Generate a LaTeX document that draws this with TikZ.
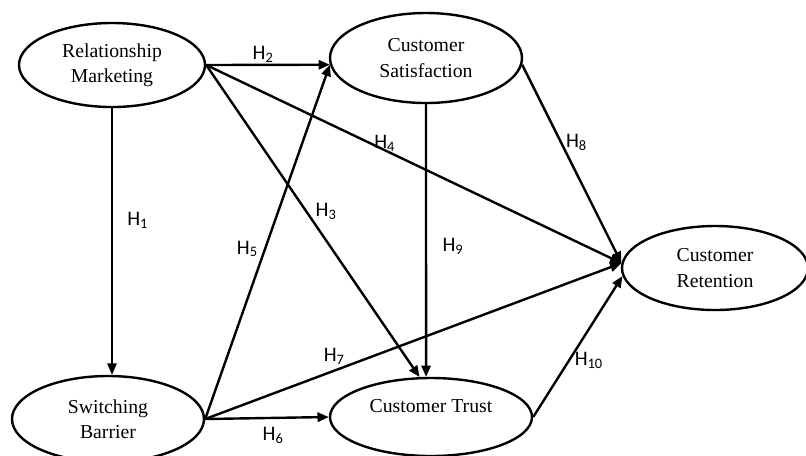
\documentclass[tikz,border=0pt]{standalone}
\usepackage{fontspec}
\setmainfont{Liberation Serif}
\newfontfamily\hypfont{Carlito}
\usetikzlibrary{arrows.meta, shapes.geometric, positioning}

\begin{document}
\begin{tikzpicture}[x=0.75pt, y=-0.75pt, -{Triangle[length=8.5pt, width=7pt]}, line width=1.8pt,
	construct/.style={ellipse, draw, inner sep=0pt, align=center, font=\fontsize{14.8}{19}\selectfont},
	hyp/.style={font=\hypfont\fontsize{15.5}{17}\selectfont, inner sep=2pt}]

\useasboundingbox (0,0) rectangle (806,455);

\node[construct, minimum width=139.5pt, minimum height=63pt]	(rm) at (112,65)	{Relationship\\Marketing};
\node[construct, minimum width=144pt, minimum height=67.5pt]	(cs) at (426,58)	{Customer\\Satisfaction};
\node[construct, minimum width=139.5pt, minimum height=63pt]	(cr) at (715,268)	{Customer\\Retention};
\node[construct, minimum width=144pt, minimum height=64.5pt]	(sb) at (108,419)	{Switching\\Barrier};
\node[construct, minimum width=151.5pt, minimum height=58.5pt, text depth=16.5pt]	(ct) at (431,417)	{Customer Trust};

\path	(rm.south)	edge[line width=1pt]	node[pos=0.42, right=9pt, hyp]	{H\textsubscript{1}}	(rm.south |- sb.north);
\path	(rm.east)	edge	node[pos=0.46, above=-1pt, hyp]	{H\textsubscript{2}}	(cs.184);
\path	(rm.east)	edge	node[pos=0.47, right=4pt, hyp]	{H\textsubscript{3}}	(ct.106);
\path	(rm.east)	edge	node[pos=0.43, anchor=base, yshift=1.5pt, hyp]	{H\textsubscript{4}}	(cr.177);
\path	(sb.east)	edge	node[pos=0.48, left=2.5pt, hyp]	{H\textsubscript{5}}	(cs.184);
\path	(sb.east)	edge	node[pos=0.55, below=4pt, hyp]	{H\textsubscript{6}}	(ct.west);
\path	(sb.east)	edge	node[pos=0.31, above=2pt, hyp]	{H\textsubscript{7}}	(cr.177);
\path	(cs.356)	edge	node[pos=0.39, right=1pt, hyp]	{H\textsubscript{8}}	(cr.177);
\path	(cs.south)	edge	node[pos=0.52, right=9.5pt, hyp]	{H\textsubscript{9}}	(ct.97);
\path	(ct.east)	edge	node[pos=0.4, right=1.5pt, hyp]	{H\textsubscript{10}}	(cr.185);

\end{tikzpicture}
\end{document}
